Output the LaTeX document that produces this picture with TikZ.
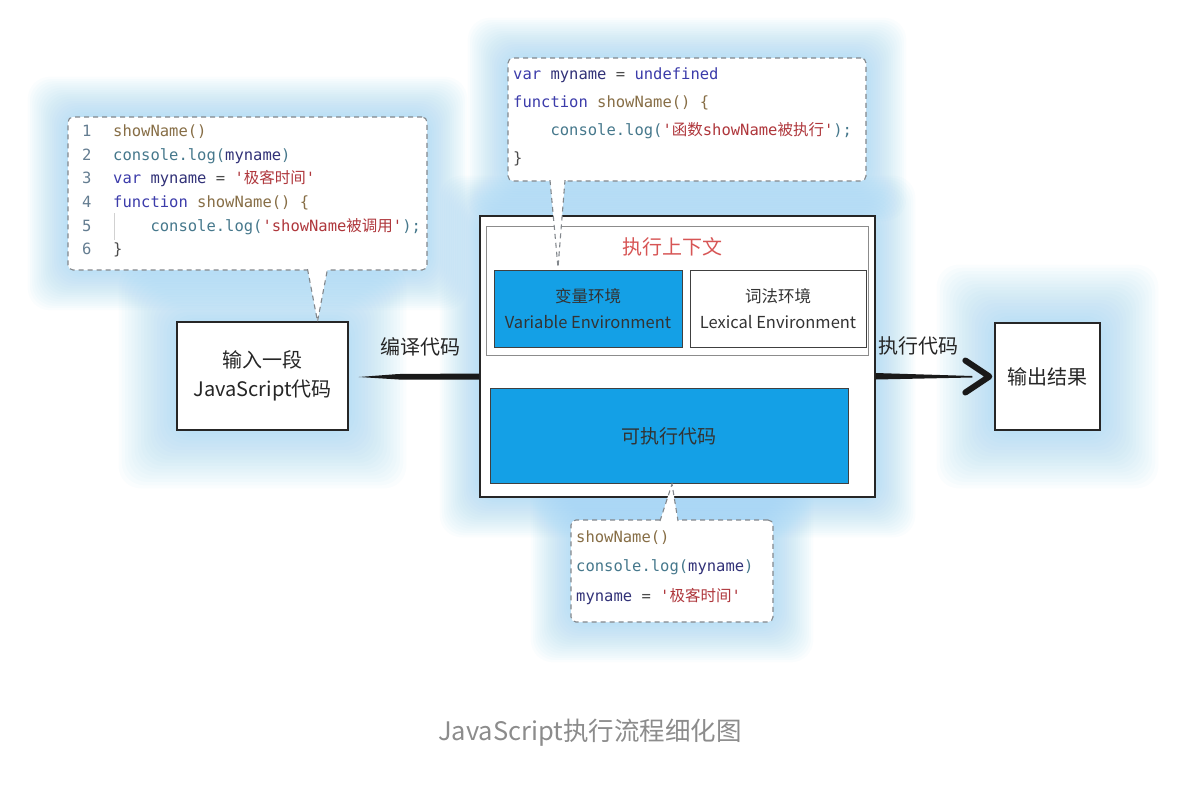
\documentclass[tikz,border=0pt]{standalone}
\usepackage{fontspec}
\setmainfont{Noto Sans CJK SC}
\setmonofont{DejaVu Sans Mono}
\newfontfamily\cjk{Noto Sans CJK SC}
\usetikzlibrary{calc,backgrounds}

\definecolor{jsblue}{RGB}{20,160,230}
\definecolor{glowblue}{RGB}{140,205,245}
\definecolor{ctxred}{RGB}{215,85,85}
\definecolor{dashgray}{RGB}{130,135,140}
\definecolor{kwcol}{RGB}{60,60,170}
\definecolor{fncol}{RGB}{135,110,70}
\definecolor{objcol}{RGB}{70,120,140}
\definecolor{varcol}{RGB}{50,50,120}
\definecolor{strcol}{RGB}{175,55,60}
\definecolor{lncol}{RGB}{100,125,145}
\definecolor{capgray}{RGB}{140,140,140}

% code colouring
\newcommand{\jskw}[1]{\textcolor{kwcol}{#1}}
\newcommand{\jsfn}[1]{\textcolor{fncol}{#1}}
\newcommand{\jsobj}[1]{\textcolor{objcol}{#1}}
\newcommand{\jsvar}[1]{\textcolor{varcol}{#1}}
\newcommand{\jsstr}[1]{\textcolor{strcol}{#1}}
\newcommand{\lnum}[1]{\makebox[31pt][l]{\textcolor{lncol}{#1}}}

\begin{document}
\begin{tikzpicture}[x=1pt,y=-1pt,
                    plainbox/.style={draw=black!85,line width=1.3pt,fill=white,inner sep=0pt,align=center,
                                     font=\fontsize{20}{29}\selectfont,text=black!85},
                    bluebox/.style={draw=black!75,line width=1pt,fill=jsblue,inner sep=0pt,align=center,
                                    font=\fontsize{16.5}{26}\selectfont,text=black!80},
                    bubble/.style={draw=dashgray,dash pattern=on 5pt off 4pt,line width=1.1pt,fill=white,
                                   rounded corners=5pt,inner sep=0pt},
                    codetxt/.style={font=\ttfamily\fontsize{15.5}{23.6}\selectfont,align=left,inner sep=0pt,
                                    anchor=west,text=black!70},
                    tail/.style={draw=dashgray,dash pattern=on 5pt off 4pt,line width=1.1pt,fill=white},
                    lbl/.style={font=\fontsize{19}{24}\selectfont,text=black!85,inner sep=0pt},
                    glow/.style={fill=glowblue,fill opacity=0.04}]

  \useasboundingbox (0,0) rectangle (1182,785);

  % boxes
  \node[plainbox,minimum width=171pt,minimum height=108pt] (in) at (262.5,376) {输入一段\\JavaScript代码};
  \node[plainbox,minimum width=395pt,minimum height=281pt] (exec) at (677.5,356.5) {};
  \node[draw=black!45,line width=0.9pt,fill=white,inner sep=0pt,
        minimum width=382pt,minimum height=129pt] (ctx) at (677,290.5) {};
  \node[lbl,text=ctxred,font=\fontsize{20}{24}\selectfont] (ctxt) at (672,247) {执行上下文};
  \node[bluebox,minimum width=188pt,minimum height=77pt] (var) at (588,308.5) {变量环境\\Variable Environment};
  \node[bluebox,fill=white,minimum width=176pt,minimum height=77pt] (lex) at (778,308.5) {词法环境\\Lexical Environment};
  \node[bluebox,minimum width=358pt,minimum height=95pt,font=\fontsize{19}{22}\selectfont] (code) at (669,436) {可执行代码};
  \node[plainbox,minimum width=105pt,minimum height=107pt] (out) at (1047.5,376.5) {输出结果};

  % code bubbles
  \node[bubble,minimum width=359pt,minimum height=153pt] (bub1) at (247.5,193.5) {};
  \node[bubble,minimum width=358pt,minimum height=123pt] (bub2) at (687,119.5) {};
  \node[bubble,minimum width=202pt,minimum height=102pt] (bub3) at (672,571) {};

  \draw[black!18,line width=0.8pt] (114,213) -- (114,240);
  \node[codetxt] (src) at (82,191) {%
    \lnum{1}\jsfn{showName()}\\
    \lnum{2}\jsobj{console.log(}\jsvar{myname}\jsobj{)}\\
    \lnum{3}\jskw{var} \jsvar{myname} = \jsstr{'{\cjk 极客时间}'}\\
    \lnum{4}\jskw{function} \jsfn{showName() \{}\\
    \lnum{5}\phantom{0000}\jsobj{console.log(}\jsstr{'showName{\cjk 被调用}'}\jsobj{);}\\
    \lnum{6}\}};
  \node[codetxt,font=\ttfamily\fontsize{15.5}{28}\selectfont] (hoist) at (513,117) {%
    \jskw{var} \jsvar{myname} = \jskw{undefined}\\
    \jskw{function} \jsfn{showName() \{}\\
    \phantom{0000}\jsobj{console.log(}\jsstr{'{\cjk 函数}showName{\cjk 被执行}'}\jsobj{);}\\
    \}};
  \node[codetxt,font=\ttfamily\fontsize{15.5}{29.5}\selectfont] (run) at (576,567.5) {%
    \jsfn{showName()}\\
    \jsobj{console.log(}\jsvar{myname}\jsobj{)}\\
    \jsvar{myname} = \jsstr{'{\cjk 极客时间}'}};

  % bubble tails
  \coordinate (t1) at ($(in.north)+(55,0)$);
  \coordinate (t2) at ($(var.north)+(-30,-2)$);
  \coordinate (t3) at ($(code.south)+(3,0)$);
  \filldraw[tail] ($(t1 |- bub1.south)+(-10,-1.5)$) -- (t1) -- ($(t1 |- bub1.south)+(10,-1.5)$);
  \filldraw[tail] ($(t2 |- bub2.south)+(-8,-1.5)$) -- (t2) -- ($(t2 |- bub2.south)+(7,-1.5)$);
  \filldraw[tail] ($(t3 |- bub3.north)+(-12,1.5)$) -- (t3) -- ($(t3 |- bub3.north)+(6,1.5)$);

  % arrows
  \fill[black!90] ($(in.east)+(10,1)$) -- ($(in.east)+(50,-2)$) -- ($(exec.west |- in.east)+(0,-2.5)$)
    -- ($(exec.west |- in.east)+(0,3.5)$) -- ($(in.east)+(50,3.5)$) -- cycle;
  \fill[black!90] ($(exec.east |- out.west)+(0,-3.5)$) -- ($(out.west)+(-22,-0.5)$)
    -- ($(out.west)+(-22,1)$) -- ($(exec.east |- out.west)+(0,3)$) -- cycle;
  \draw[black!90,line width=6pt,line cap=round,line join=round]
    ($(out.west)+(-29,-16)$) -- ($(out.west)+(-5,0)$) -- ($(out.west)+(-29,16)$);
  \node[lbl,font=\fontsize{20}{24}\selectfont] (cmp) at (420,347) {编译代码};
  \node[lbl,font=\fontsize{20}{24}\selectfont] (exe) at (918,346) {执行代码};

  \node[font=\fontsize{25.5}{30}\selectfont,text=capgray] (cap) at (590,733) {JavaScript执行流程细化图};

  % soft glow behind everything
  \begin{pgfonlayer}{background}
    \fill[white] (0,0) rectangle (1182,785);
    \foreach \nd/\s in {in/3.2,out/3.2,exec/2.2,bub1/2.2,bub2/2.2,bub3/2.2}
      \foreach \k in {1,...,18}
        \fill[glow,rounded corners=22pt] ($(\nd.north west)+(-\s*\k,-\s*\k)$) rectangle ($(\nd.south east)+(\s*\k,\s*\k)$);
  \end{pgfonlayer}
\end{tikzpicture}
\end{document}
